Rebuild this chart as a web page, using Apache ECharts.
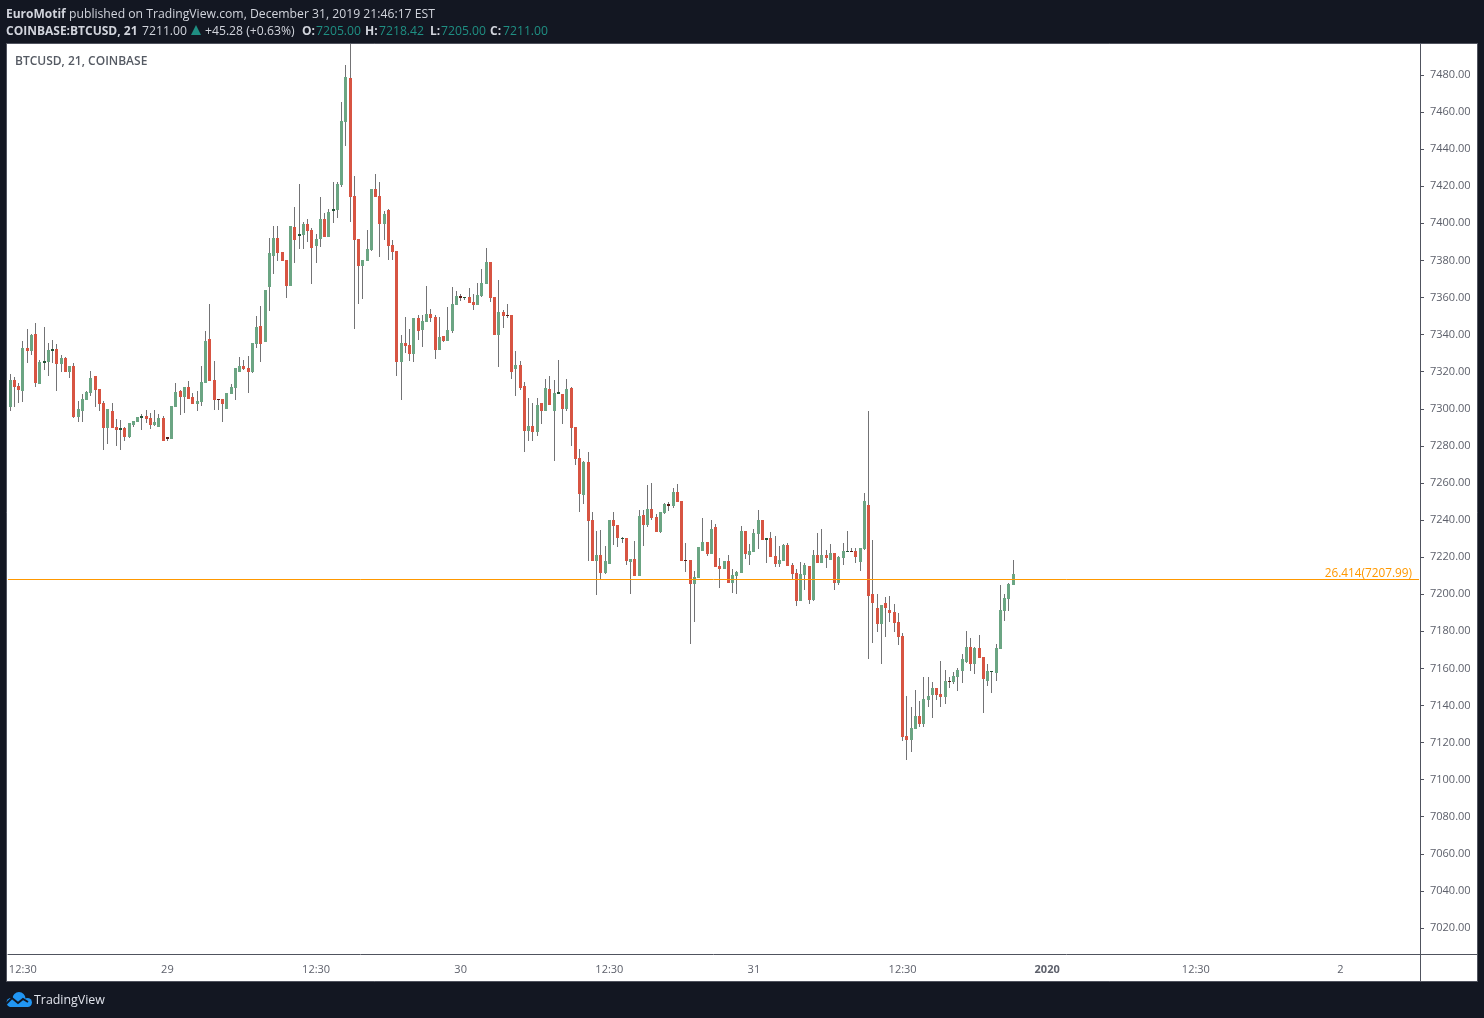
<!DOCTYPE html>
<html>
<head>
<meta charset="utf-8">
<style>html,body{margin:0;padding:0;background:#131722}#c{width:1484px;height:1018px}</style>
<script src="https://cdn.jsdelivr.net/npm/echarts@6/dist/echarts.min.js"></script>
</head>
<body>
<div id="c"></div>
<script>
const opens = [
7300.9,7315.5,7312.3,7309.6,7332.8,7331.2,7340.3,7313.4,7324.7,7325.2,
7331.2,7332.2,7324.1,7327.4,7319.8,7323.0,7295.6,7298.8,7304.7,7308.5,
7317.7,7310.7,7303.1,7289.6,7298.8,7290.2,7288.5,7289.6,7284.8,7291.2,
7292.9,7295.0,7296.1,7295.0,7291.2,7290.2,7295.0,7284.8,7283.7,7300.9,
7309.6,7306.3,7311.7,7306.3,7302.6,7303.6,7313.9,7337.6,7315.5,7305.3,
7305.3,7299.9,7307.9,7311.2,7319.8,7323.0,7322.0,7319.8,7334.9,7344.6,
7336.0,7365.7,7382.4,7392.1,7384.5,7380.2,7366.2,7398.0,7393.2,7393.7,
7399.6,7396.4,7387.8,7391.5,7402.3,7392.6,7406.7,7407.2,7420.7,7454.6,
7478.4,7414.7,7391.5,7377.0,7379.7,7385.6,7418.5,7414.7,7399.6,7407.2,
7388.3,7385.1,7325.2,7335.4,7334.4,7329.5,7348.9,7342.5,7346.8,7351.1,
7349.5,7331.7,7339.2,7336.5,7341.9,7355.9,7360.8,7359.7,7360.3,7357.6,
7355.9,7360.8,7367.3,7379.1,7360.3,7339.8,7352.2,7350.5,7350.5,7321.4,
7323.6,7312.2,7288.0,7290.7,7287.4,7303.1,7298.8,7310.6,7298.8,7307.9,
7307.9,7299.8,7311.2,7290.1,7273.5,7253.5,7271.3,7240.0,7217.9,7221.1,
7211.4,7216.3,7240.0,7237.3,7229.8,7230.3,7217.4,7219.0,7209.8,7242.7,
7237.3,7245.9,7241.6,7233.5,7243.8,7248.6,7247.6,7255.1,7250.3,7218.4,
7218.4,7205.5,7208.7,7223.3,7228.1,7221.7,7236.2,7215.2,7213.6,7217.9,
7206.0,7209.8,7211.4,7234.1,7221.1,7222.8,7232.5,7240.0,7229.2,7230.3,
7220.6,7216.3,7217.9,7226.5,7215.7,7211.4,7196.3,7210.3,7215.2,7196.8,
7221.1,7216.8,7221.1,7218.4,7222.2,7206.0,7219.5,7222.7,7223.3,7223.3,
7217.3,7224.4,7248.1,7200.1,7192.5,7183.9,7195.2,7191.5,7190.4,7185.0,
7177.4,7123.5,7121.3,7127.3,7134.3,7130.0,7142.9,7145.6,7149.4,7146.2,
7144.5,7153.2,7152.6,7155.3,7158.6,7163.4,7171.5,7162.3,7171.0,7166.1,
7153.2,7158.0,7157.5,7170.4,7190.9,7197.4,7205.0];
const closes = [
7315.5,7311.7,7310.1,7332.8,7331.2,7339.8,7313.9,7325.2,7325.8,7331.7,
7332.2,7324.1,7327.4,7319.8,7323.0,7295.6,7299.9,7305.3,7309.0,7316.6,
7310.1,7302.6,7289.6,7299.9,7289.6,7288.5,7289.6,7284.8,7292.3,7293.4,
7295.6,7296.1,7294.5,7291.2,7292.9,7295.0,7282.6,7283.7,7301.5,7309.0,
7306.3,7311.7,7305.3,7302.6,7304.2,7314.4,7336.5,7315.0,7304.7,7304.7,
7302.6,7308.5,7311.7,7322.0,7323.0,7321.4,7319.8,7335.5,7344.1,7334.9,
7364.0,7384.0,7392.1,7384.0,7379.7,7366.2,7398.6,7391.0,7394.2,7399.6,
7395.9,7386.7,7391.5,7402.3,7392.6,7406.1,7407.7,7421.2,7455.2,7478.9,
7414.2,7391.0,7377.0,7380.2,7386.2,7418.5,7414.2,7399.6,7405.0,7387.8,
7384.5,7325.2,7335.4,7333.8,7329.5,7348.9,7341.9,7347.3,7351.1,7348.9,
7331.7,7338.7,7336.5,7342.5,7356.5,7360.8,7359.7,7360.3,7357.0,7355.9,
7361.3,7367.8,7379.1,7359.7,7339.8,7352.2,7350.0,7350.0,7319.8,7323.6,
7311.2,7288.0,7290.7,7287.4,7302.0,7298.8,7311.2,7302.0,7308.5,7309.0,
7299.8,7310.6,7289.6,7272.9,7254.0,7271.3,7239.5,7217.9,7221.1,7211.4,
7217.9,7240.0,7236.8,7230.3,7230.3,7217.9,7219.0,7209.8,7242.2,7237.3,
7245.9,7241.1,7233.5,7244.3,7248.6,7247.6,7255.1,7249.7,7217.9,7217.9,
7205.5,7209.3,7225.4,7228.1,7221.7,7235.2,7214.7,7213.6,7217.9,7206.0,
7210.3,7212.0,7234.1,7221.7,7223.3,7233.0,7240.0,7229.2,7230.3,7220.1,
7216.3,7218.4,7226.5,7215.2,7210.9,7196.3,7210.9,7215.7,7196.8,7221.1,
7216.8,7221.1,7219.5,7222.2,7206.0,7220.0,7223.3,7223.3,7222.7,7220.0,
7224.9,7250.2,7199.0,7195.2,7183.9,7194.2,7192.5,7189.8,7184.4,7176.9,
7122.9,7121.3,7127.8,7134.3,7130.0,7143.5,7145.1,7149.4,7145.6,7144.5,
7153.2,7152.6,7155.9,7159.1,7165.0,7171.5,7162.3,7171.0,7165.6,7154.2,
7158.6,7158.6,7171.0,7191.5,7197.9,7205.5,7211.0];
const lows = [
7298.8,7300.9,7303.1,7303.6,7324.7,7329.0,7311.7,7313.4,7320.9,7317.7,
7324.7,7309.6,7319.8,7319.8,7316.6,7295.0,7292.9,7292.9,7304.7,7306.9,
7300.9,7298.8,7277.7,7281.0,7289.6,7279.9,7277.7,7282.6,7284.2,7290.2,
7292.9,7288.5,7292.3,7289.1,7290.7,7290.2,7282.6,7282.6,7283.7,7300.9,
7296.6,7297.7,7305.3,7302.6,7298.8,7301.5,7313.9,7315.0,7299.3,7299.3,
7292.9,7299.9,7307.9,7304.7,7319.8,7320.9,7308.5,7319.3,7332.8,7325.2,
7336.0,7352.7,7372.7,7379.7,7379.7,7359.7,7366.2,7378.6,7386.2,7386.2,
7389.9,7367.3,7378.6,7387.2,7392.6,7392.6,7400.2,7402.9,7419.6,7441.7,
7400.7,7343.0,7356.5,7359.2,7379.7,7385.1,7414.2,7381.8,7391.0,7380.2,
7380.2,7317.6,7304.7,7330.0,7325.7,7325.2,7337.1,7333.3,7346.8,7346.8,
7326.8,7331.7,7336.0,7336.5,7340.8,7355.9,7358.1,7358.6,7357.0,7353.2,
7355.9,7360.3,7367.3,7357.6,7339.8,7322.5,7343.5,7348.9,7316.0,7306.9,
7310.1,7276.6,7282.6,7282.6,7285.3,7291.8,7298.8,7302.0,7271.8,7307.9,
7291.8,7298.8,7279.9,7269.6,7244.3,7248.6,7217.9,7217.9,7199.5,7207.6,
7210.9,7216.3,7226.5,7225.5,7227.6,7215.7,7200.1,7209.8,7209.8,7226.0,
7236.2,7240.0,7233.5,7233.0,7243.2,7244.9,7246.5,7249.7,7217.9,7212.0,
7173.1,7185.0,7208.7,7223.3,7220.6,7221.7,7214.7,7203.3,7213.6,7206.0,
7200.6,7200.1,7211.4,7219.0,7215.7,7222.8,7224.4,7229.2,7216.8,7220.1,
7214.7,7214.7,7217.9,7215.2,7207.6,7193.6,7196.3,7202.2,7194.7,7196.3,
7216.8,7216.8,7214.1,7218.4,7202.2,7204.9,7215.7,7222.7,7222.7,7216.8,
7212.5,7223.8,7165.0,7173.6,7179.6,7162.3,7176.9,7185.0,7179.6,7172.6,
7120.8,7110.6,7114.9,7127.3,7128.4,7128.4,7139.1,7133.2,7142.9,7139.1,
7140.8,7149.4,7151.5,7147.8,7152.1,7162.9,7158.6,7157.0,7165.6,7135.9,
7150.5,7146.7,7153.2,7170.4,7185.5,7190.9,7205.0];
const highs = [
7318.7,7317.1,7313.9,7336.5,7343.0,7340.3,7346.3,7326.3,7344.1,7335.5,
7337.1,7334.9,7329.0,7327.9,7323.0,7324.7,7304.2,7308.0,7309.6,7320.4,
7317.7,7310.7,7304.2,7299.9,7303.1,7294.5,7293.9,7290.2,7292.3,7293.4,
7295.6,7297.2,7299.3,7297.7,7299.3,7297.2,7296.1,7284.8,7301.5,7313.9,
7310.1,7311.7,7315.0,7308.5,7309.6,7323.0,7341.9,7356.5,7325.8,7305.3,
7305.3,7308.5,7313.3,7322.0,7327.9,7326.3,7328.4,7335.5,7350.0,7355.4,
7364.0,7392.1,7398.6,7398.6,7384.5,7380.2,7398.6,7408.8,7421.2,7400.7,
7402.3,7397.5,7394.2,7414.2,7405.6,7407.7,7422.3,7422.3,7465.4,7485.4,
7497.0,7425.5,7391.5,7380.2,7396.4,7418.5,7426.6,7422.3,7406.7,7407.7,
7391.0,7385.1,7339.8,7349.5,7343.0,7348.9,7350.5,7350.5,7366.2,7353.8,
7350.5,7349.5,7339.2,7354.9,7365.6,7363.5,7361.9,7360.3,7365.1,7361.9,
7367.8,7375.4,7386.7,7379.1,7360.3,7369.4,7353.2,7356.5,7350.5,7331.1,
7325.7,7314.4,7305.8,7303.1,7305.8,7303.1,7316.0,7317.6,7315.5,7326.3,
7307.9,7316.0,7311.7,7290.1,7278.3,7271.8,7276.7,7244.3,7234.1,7234.6,
7226.0,7240.0,7244.3,7237.3,7230.8,7230.3,7219.0,7228.7,7245.4,7245.4,
7258.9,7260.0,7243.2,7244.3,7249.2,7249.7,7257.3,7259.4,7250.3,7227.6,
7218.4,7212.5,7225.4,7241.1,7228.1,7240.0,7237.8,7219.5,7217.9,7221.1,
7213.6,7212.5,7236.8,7234.1,7227.1,7235.2,7245.4,7240.0,7230.3,7233.5,
7231.4,7226.0,7227.1,7227.6,7216.8,7213.6,7217.3,7216.8,7215.2,7223.8,
7233.0,7235.1,7223.8,7227.1,7222.2,7220.6,7227.6,7234.0,7224.9,7224.9,
7224.9,7254.6,7298.8,7229.2,7200.1,7194.2,7198.5,7199.0,7194.7,7189.8,
7179.1,7145.1,7139.1,7148.3,7142.4,7155.3,7155.3,7152.6,7149.4,7164.0,
7159.1,7155.3,7158.0,7160.2,7167.7,7180.1,7176.4,7171.5,7178.0,7166.1,
7162.3,7158.6,7173.1,7205.0,7200.1,7206.0,7218.42];
const xTickIndex = [3, 37, 72, 106, 141, 175, 210, 244, 279, 313];
const xTickLabels = ['12:30', '29', '12:30', '30', '12:30', '31', '12:30', '2020', '12:30', '2'];
const yTicks = [7020,7040,7060,7080,7100,7120,7140,7160,7180,7200,7220,7240,7260,7280,7300,7320,7340,7360,7380,7400,7420,7440,7460,7480];
const levelPrice = 7207.99;
const levelLabel = '26.414(7207.99)';
const slotCount = 332;

const FONT = '"Open Sans", sans-serif';
const GREEN = '#6ba583', RED = '#d75442', GREEN_DARK = '#225437', RED_DARK = '#5b1a13', WICK = '#737375';
const HEAD = '#d1d4dc', TEAL = '#1f8f83', LOGO = '#2196f3', PAGE = '#131722';

const categories = [];
for (let i = 0; i < slotCount; i++) {
  const k = xTickIndex.indexOf(i);
  categories.push(k >= 0 ? xTickLabels[k] : '');
}
const rows = opens.map((o, i) => [i, o, closes[i], lows[i], highs[i]]);

function renderCandle(params, api) {
  const i = api.value(0), o = api.value(1), c = api.value(2), l = api.value(3), h = api.value(4);
  const x = Math.floor(api.coord([i, o])[0]);
  const yo = api.coord([i, o])[1], yc = api.coord([i, c])[1];
  const yl = Math.round(api.coord([i, l])[1]), yh = Math.round(api.coord([i, h])[1]);
  const top = Math.round(Math.min(yo, yc));
  const height = Math.max(Math.round(Math.max(yo, yc)) - top, 1);
  const up = c >= o;
  const fill = height <= 2 ? (up ? GREEN_DARK : RED_DARK) : (up ? GREEN : RED);
  return {
    type: 'group',
    children: [
      { type: 'rect', shape: { x: x, y: yh, width: 1, height: Math.max(yl - yh, 1) }, style: { fill: WICK } },
      { type: 'rect', shape: { x: x - 1, y: top, width: 3, height: height }, style: { fill: fill } }
    ]
  };
}

function label(x, y, text, color, weight, size, align) {
  return { type: 'text', x: x, y: y, z: 5, silent: true,
    style: { text: text, fill: color, font: (weight || 400) + ' ' + (size || 12.2) + 'px ' + FONT, align: align || 'left', verticalAlign: 'middle' } };
}

const graphics = [
  { type: 'rect', z: 0, silent: true, shape: { x: 6.5, y: 43.5, width: 1471, height: 938 }, style: { fill: '#ffffff', stroke: '#50535e', lineWidth: 1 } },
  { type: 'line', z: 5, silent: true, shape: { x1: 1420.5, y1: 954, x2: 1420.5, y2: 981 }, style: { stroke: '#50535e', lineWidth: 1 } },
  { type: 'line', z: 5, silent: true, shape: { x1: 1419, y1: 954.5, x2: 1477, y2: 954.5 }, style: { stroke: '#50535e', lineWidth: 1 } },
  label(6, 14.5, 'EuroMotif', HEAD, 700, 12),
  label(69, 14.5, 'published on TradingView.com, December 31, 2019 21:46:17 EST', HEAD),
  label(6, 31.5, 'COINBASE:BTCUSD, 21', HEAD, 700, 12),
  label(142, 31.5, '7211.00', HEAD),
  { type: 'polygon', z: 5, silent: true, shape: { points: [[191, 35], [196, 25], [201, 35]] }, style: { fill: TEAL } },
  label(205, 31.5, '+45.28 (+0.63%)', HEAD),
  label(302, 31.5, 'O:', HEAD, 700, 12),
  label(316, 31.5, '7205.00', TEAL),
  label(365, 31.5, 'H:', HEAD, 700, 12),
  label(379, 31.5, '7218.42', TEAL),
  label(430, 31.5, 'L:', HEAD, 700, 12),
  label(441, 31.5, '7205.00', TEAL),
  label(490, 31.5, 'C:', HEAD, 700, 12),
  label(503, 31.5, '7211.00', TEAL),
  label(15, 61.5, 'BTCUSD, 21, COINBASE', '#555a63', 600, 12),
  { type: 'circle', z: 5, silent: true, shape: { cx: 11, cy: 1002.5, r: 4.5 }, style: { fill: LOGO } },
  { type: 'circle', z: 5, silent: true, shape: { cx: 19, cy: 998.5, r: 6.5 }, style: { fill: LOGO } },
  { type: 'circle', z: 5, silent: true, shape: { cx: 27.5, cy: 1002.5, r: 4.5 }, style: { fill: LOGO } },
  { type: 'rect', z: 5, silent: true, shape: { x: 10, y: 1001, width: 18, height: 6 }, style: { fill: LOGO } },
  { type: 'polyline', z: 6, silent: true, shape: { points: [[6, 1004], [12, 998], [18, 1003], [23, 999], [28, 1002]] }, style: { stroke: PAGE, lineWidth: 2, fill: 'none' } },
  label(34, 1000.5, 'TradingView', '#e0e3eb', 400, 12.4)
];

const chart = echarts.init(document.getElementById('c'), null, { renderer: 'canvas' });
chart.setOption({
  animation: false,
  backgroundColor: PAGE,
  graphic: { elements: graphics },
  grid: { left: 8, right: 65, top: 44, bottom: 64, containLabel: false },
  xAxis: {
    type: 'category', data: categories, boundaryGap: true,
    axisLine: { lineStyle: { color: '#50535e', width: 1 } },
    axisTick: { alignWithLabel: true, length: 3, lineStyle: { color: '#50535e' }, interval: (idx, v) => v !== '' },
    axisLabel: {
      interval: (idx, v) => v !== '', color: '#5d606b', fontFamily: FONT, fontSize: 11, margin: 10, hideOverlap: false,
      formatter: v => v === '2020' ? '{y|2020}' : v,
      rich: { y: { fontWeight: 700, fontFamily: FONT, fontSize: 11, color: '#5d606b' } }
    },
    splitLine: { show: false }
  },
  yAxis: {
    type: 'value', position: 'right', offset: 1, min: 7005.96, max: 7496.72, scale: true,
    axisLine: { show: true, lineStyle: { color: '#50535e', width: 1 } },
    axisTick: { show: true, length: 4, lineStyle: { color: '#50535e' }, customValues: yTicks },
    axisLabel: { color: '#5d606b', fontFamily: FONT, fontSize: 11, margin: 10, padding: [5, 0, 0, 0], customValues: yTicks, formatter: v => v.toFixed(2) },
    splitLine: { show: false }
  },
  series: [{
    type: 'custom', name: 'BTCUSD', clip: true, renderItem: renderCandle, data: rows,
    encode: { x: 0, y: [1, 2, 3, 4] }, silent: true,
    markLine: {
      silent: true, symbol: 'none', animation: false,
      lineStyle: { color: '#ff9800', width: 1, type: 'solid' },
      label: { position: 'insideEndTop', formatter: levelLabel, color: '#ff9800', fontFamily: FONT, fontSize: 11.8, distance: [7, 0] },
      data: [{ yAxis: levelPrice }]
    }
  }]
});
</script>
</body>
</html>
